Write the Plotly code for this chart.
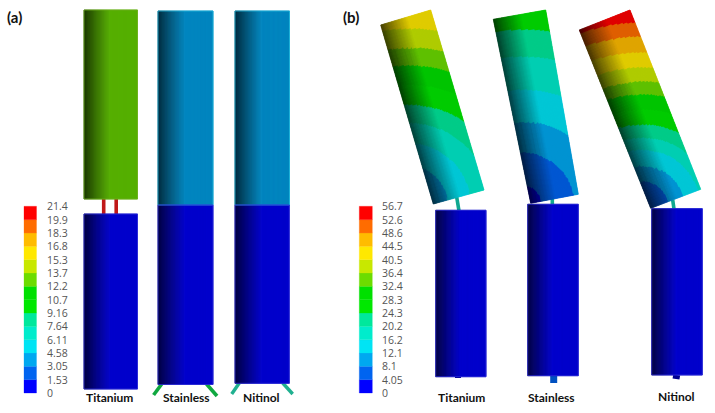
import numpy as np
import plotly.graph_objects as go

# contour legend, bottom band first
band_colors = ["#0000ff", "#0064f0", "#00a8f0", "#00e4f4", "#00eccc", "#00e89c", "#00e800",
               "#00e000", "#6cdc00", "#c8e800", "#ffe800", "#ffbc00", "#ff6c00", "#ff0000"]
ticks_a = ["0", "1.53", "3.05", "4.58", "6.11", "7.64", "9.16", "10.7", "12.2", "13.7", "15.3",
           "16.8", "18.3", "19.9", "21.4"]
ticks_b = ["0", "4.05", "8.1", "12.1", "16.2", "20.2", "24.3", "28.3", "32.4", "36.4", "40.5",
           "44.5", "48.6", "52.6", "56.7"]
materials = ["Titanium", "Stainless", "Nitinol"]

# band of the upper body in panel (a)
upper_bands_a = [8, 2, 2]

# contour radii read along the tilted bodies in panel (b), one per band change
NO_BAND = 999
levels_titanium = [0, 0, 40, 62, 82, 100, 120, 139, 157, 176, NO_BAND, NO_BAND, NO_BAND]
levels_stainless = [20, 52, 83, 115, 148, 175, NO_BAND, NO_BAND, NO_BAND, NO_BAND, NO_BAND, NO_BAND, NO_BAND]
levels_nitinol = [0, 26, 42, 58, 70, 83, 98, 113, 126, 140, 156, 171, 185]

polys = {}  # colour -> (xs, ys), merged into one trace per colour


def shade(color, u, lit, spread):
    """Darken a band colour towards the left side of a cylinder."""
    f = lit * (0.3 + 0.7 * min(u / spread, 1.0) ** 0.9)
    f = round(f * 64) / 64
    r, g, b = [int(color[i:i + 2], 16) for i in (1, 3, 5)]
    return f"#{int(r * f):02x}{int(g * f):02x}{int(b * f):02x}"


def add_poly(color, px, py):
    xs, ys = polys.setdefault(color, ([], []))
    xs.extend(px + [px[0], None])
    ys.extend(py + [py[0], None])


def cylinder(tl, tr, br, bl, band=None, levels=None, pivot=None, nu=54, nv=1, lit=0.8, spread=0.5):
    """Fill a body strip by strip; tilted bodies get concentric contour bands."""
    tl, tr, br, bl = [np.array(p, dtype=float) for p in (tl, tr, br, bl)]

    def at(u, v):
        return (tl * (1 - u) + tr * u) * (1 - v) + (bl * (1 - u) + br * u) * v

    for i in range(nu):
        u0, u1 = i / nu, (i + 1) / nu
        for j in range(nv):
            v0, v1 = j / nv, (j + 1) / nv
            k = band
            if levels is not None:
                c = at((u0 + u1) / 2, (v0 + v1) / 2)
                k = int(np.searchsorted(levels, np.hypot(*(c - pivot)), side="right"))
            col = shade(band_colors[k], (u0 + u1) / 2, lit, spread)
            quad = [at(u0, v0), at(u1, v0), at(u1, v1), at(u0, v1)]
            add_poly(col, [float(q[0]) for q in quad], [float(q[1]) for q in quad])


def upright(x0, x1, y0, y1, band, edge):
    cylinder((x0, y0), (x1, y0), (x1, y1), (x0, y1), band=band)
    outlines.append(([x0, x1, x1, x0, x0], [y0, y0, y1, y1, y0], edge))


outlines = []
fig = go.Figure()

# links and legs go under the bodies
links = [
    ((103.7, 198), (103.7, 215), "#c01818", 3.6), ((116.2, 198), (116.2, 215), "#c01818", 3.6),
    ((161.7, 384), (153.6, 395), "#10a840", 3.6), ((206.5, 384), (217, 396), "#10a840", 3.6),
    ((239.3, 383), (231.7, 394), "#20b090", 3.4), ((282.7, 383), (292.7, 394), "#20b090", 3.4),
    ((456.7, 197), (459, 211), "#10a890", 3.6), ((552.3, 198), (552.3, 205), "#10a890", 3.6),
    ((672.7, 200), (674, 209), "#10a890", 3.6),
    ((553.7, 375), (553.7, 383), "#0050c0", 7), ((676.7, 375), (676, 379), "#000090", 7),
    ((458, 376), (458, 378), "#000090", 6),
]
for a, b, col, w in links:
    fig.add_trace(go.Scatter(x=[a[0], b[0]], y=[a[1], b[1]], mode="lines",
                             line=dict(color=col, width=w), hoverinfo="skip"))

# panel (a)
upright(84, 137.5, 10, 199, upper_bands_a[0], "#70b020")
upright(158, 213, 11, 205, upper_bands_a[1], "#20b8dc")
upright(235, 289.5, 11, 205, upper_bands_a[2], "#20b8dc")
upright(84, 137.5, 214, 389, 0, "#3030d8")
upright(158, 213, 205, 384.5, 0, "#3030d8")
upright(235, 289.3, 205, 383.3, 0, "#3030d8")

# panel (b)
upright(435.7, 486, 210.3, 376.7, 0, "#3030d8")
upright(527.7, 578.3, 204.3, 375.7, 0, "#3030d8")
upright(651.7, 702.3, 208.7, 375, 0, "#3030d8")
cylinder((380.7, 25), (430.7, 10), (484, 190), (433.3, 204), levels=levels_titanium,
         pivot=np.array((408.0, 205.0)), nu=50, nv=140, lit=0.88, spread=0.55)
cylinder((493.3, 19.3), (545.7, 10), (578.3, 194.3), (530.7, 203.3), levels=levels_stainless,
         pivot=np.array((522.0, 205.0)), nu=50, nv=140, lit=0.88, spread=0.55)
cylinder((579.3, 30), (630, 10), (700.7, 189.3), (650.7, 208.3), levels=levels_nitinol,
         pivot=np.array((642.0, 208.0)), nu=50, nv=140, lit=0.88, spread=0.55)

for col, (xs, ys) in polys.items():
    fig.add_trace(go.Scatter(x=xs, y=ys, mode="lines", fill="toself", fillcolor=col,
                             line=dict(color=col, width=0.8), hoverinfo="skip"))
for xs, ys, col in outlines:
    fig.add_trace(go.Scatter(x=xs, y=ys, mode="lines", line=dict(color=col, width=0.8),
                             hoverinfo="skip"))

# colour legends
annotations = []
BAR_TOP, BAR_BOTTOM = 206.3, 393.0
step = (BAR_BOTTOM - BAR_TOP) / len(band_colors)
for x0, x1, label_x, ticks in [(24, 36.5, 44.5, ticks_a), (359.3, 372.3, 379.7, ticks_b)]:
    for i, col in enumerate(band_colors):
        y1 = BAR_BOTTOM - i * step
        y0 = y1 - step
        fig.add_trace(go.Scatter(x=[x0, x1, x1, x0, x0], y=[y0, y0, y1, y1, y0], mode="lines",
                                 fill="toself", fillcolor=col, line=dict(color=col, width=0.3),
                                 hoverinfo="skip"))
    for i, t in enumerate(ticks):
        annotations.append(dict(x=label_x, y=BAR_BOTTOM - i * step, text=t, showarrow=False,
                                xanchor="left", yanchor="middle", xref="x", yref="y",
                                font=dict(family="Open Sans", size=10.5, color="#555555")))

name_x = [109, 186, 261.7, 461, 551.7, 676.7]
name_y = [397, 397, 397, 397, 397, 396]
for i, (x, y) in enumerate(zip(name_x, name_y)):
    annotations.append(dict(x=x, y=y, text=f"<b>{materials[i % 3]}</b>", showarrow=False,
                            xanchor="center", yanchor="middle", xref="x", yref="y",
                            font=dict(family="Lato", size=12, color="#111111")))
for x, text in [(5, "(a)"), (341, "(b)")]:
    annotations.append(dict(x=x, y=17, text=f"<b>{text}</b>", showarrow=False, xanchor="left",
                            yanchor="middle", xref="x", yref="y",
                            font=dict(family="Lato", size=15, color="#111111")))

fig.update_layout(
    width=715,
    height=413,
    margin=dict(l=0, r=0, t=0, b=0),
    paper_bgcolor="white",
    plot_bgcolor="white",
    showlegend=False,
    annotations=annotations,
    xaxis=dict(range=[0, 715], visible=False),
    yaxis=dict(range=[413, 0], visible=False),
)
fig.write_html("out.html", config=dict(displayModeBar=False),
               post_script="document.body.style.margin='0';")
